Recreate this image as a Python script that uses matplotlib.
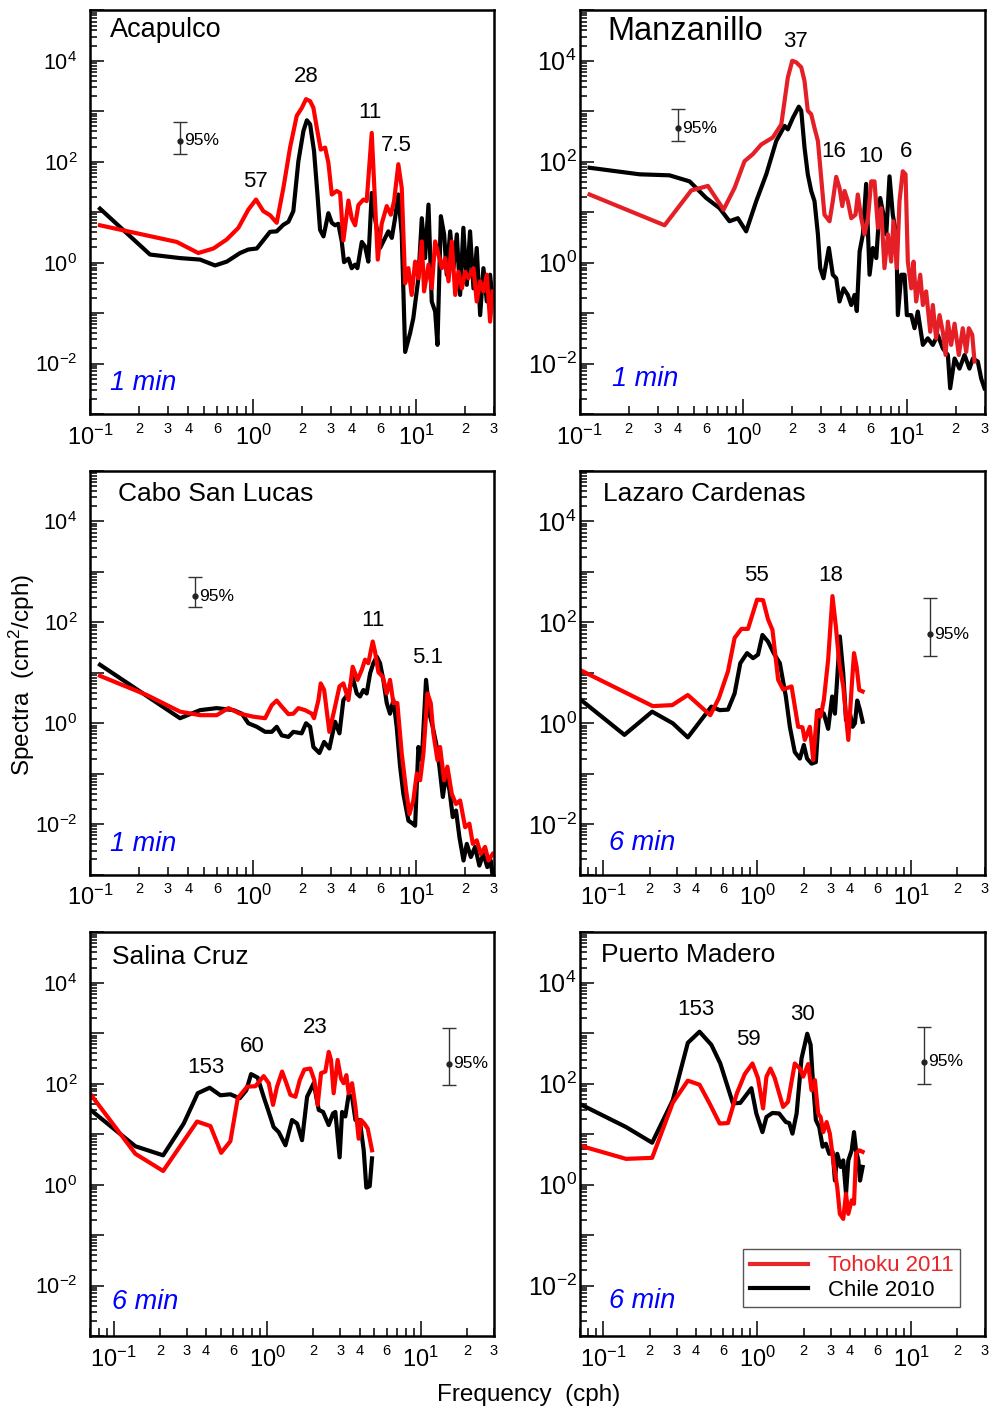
import matplotlib
matplotlib.use('Agg')
import matplotlib.pyplot as plt
from matplotlib.ticker import FixedLocator, FuncFormatter, NullFormatter
import numpy as np

plt.rcParams['font.family'] = ['Liberation Sans', 'DejaVu Sans']
plt.rcParams['mathtext.fontset'] = 'custom'
plt.rcParams['mathtext.rm'] = 'Liberation Sans'
plt.rcParams['mathtext.it'] = 'Liberation Sans:italic'

# spectra as (log10 frequency [cph], log10 spectrum [cm^2/cph])
aca_chile = [(-0.939, 1.07), (-0.632, 0.16), (-0.448, 0.09), (-0.325, 0.06), (-0.233, -0.056), (-0.161, 0.02),
             (-0.08, 0.19), (-0.029, 0.26), (0.023, 0.28), (0.104, 0.61), (0.145, 0.62), (0.186, 0.75), (0.217, 0.81),
             (0.247, 1.02), (0.278, 2.01), (0.309, 2.61), (0.33, 2.82), (0.35, 2.74), (0.374, 2.21), (0.395, 1.35),
             (0.411, 0.65), (0.432, 0.52), (0.462, 0.98), (0.483, 0.79), (0.503, 0.74), (0.523, 0.77), (0.544, 0.42),
             (0.558, 0.01), (0.585, 0.08), (0.605, -0.11), (0.626, -0.04), (0.64, -0.11), (0.667, 0.41), (0.687, 0.32),
             (0.707, 0.02), (0.728, 1.38), (0.748, 0.88), (0.779, 0.29), (0.81, 0.49), (0.83, 0.62), (0.851, 0.49),
             (0.871, 0.88), (0.891, 1.35), (0.912, 0.56), (0.933, -1.77), (0.963, -1.40), (0.983, -1.10), (1.014, -0.31),
             (1.035, 0.88), (1.055, 0.09), (1.076, 1.15), (1.096, -0.77), (1.117, -0.97), (1.131, -1.63), (1.152, 0.92),
             (1.172, 0.56), (1.188, -0.24), (1.209, 0.62), (1.229, -0.11), (1.25, 0.56), (1.27, -0.64), (1.29, 0.69),
             (1.311, -0.44), (1.331, 0.62), (1.352, -0.51), (1.372, 0.29), (1.393, -1.04), (1.413, -0.11), (1.434, -0.77),
             (1.454, -0.24), (1.47, -0.77)]
aca_tohoku = [(-0.939, 0.74), (-0.468, 0.41), (-0.336, 0.19), (-0.243, 0.28), (-0.161, 0.46), (-0.09, 0.69),
              (-0.029, 1.05), (0.018, 1.25), (0.063, 1.02), (0.104, 0.94), (0.145, 0.79), (0.186, 1.48), (0.227, 2.28),
              (0.268, 2.91), (0.298, 3.06), (0.325, 3.24), (0.35, 3.20), (0.37, 3.07), (0.391, 2.67), (0.415, 2.24),
              (0.442, 2.28), (0.462, 1.98), (0.483, 1.35), (0.513, 1.42), (0.534, 1.38), (0.554, 0.44), (0.585, 1.23),
              (0.605, 0.88), (0.626, 0.74), (0.646, 1.14), (0.677, 1.25), (0.697, 1.22), (0.728, 2.57), (0.742, 1.61),
              (0.765, 0.06), (0.789, 0.77), (0.82, 1.12), (0.845, 0.95), (0.865, 1.22), (0.891, 1.95), (0.912, 1.48),
              (0.933, -0.41), (0.953, -0.11), (0.973, -0.64), (0.994, 0.02), (1.014, -0.31), (1.035, 0.42), (1.049, -0.57),
              (1.076, -0.04), (1.096, -0.51), (1.117, 0.42), (1.137, 0.16), (1.158, -0.11), (1.178, 0.09), (1.199, -0.37),
              (1.219, 0.42), (1.24, -0.64), (1.26, -0.18), (1.281, -0.51), (1.301, -0.18), (1.321, -0.31), (1.352, -0.11),
              (1.372, -0.77), (1.393, -0.37), (1.413, -0.57), (1.434, -0.24), (1.454, -1.17), (1.47, -0.57)]

man_chile = [(-0.939, 1.88), (-0.633, 1.75), (-0.45, 1.73), (-0.327, 1.61), (-0.225, 1.28), (-0.144, 1.08),
             (-0.083, 0.82), (-0.032, 0.88), (0.019, 0.62), (0.081, 1.22), (0.142, 1.75), (0.203, 2.41), (0.254, 2.71),
             (0.274, 2.64), (0.305, 2.87), (0.341, 3.09), (0.356, 3.01), (0.376, 2.28), (0.396, 1.75), (0.417, 1.42),
             (0.437, 1.22), (0.458, 0.56), (0.472, -0.11), (0.492, -0.31), (0.525, 0.29), (0.549, -0.24), (0.57, -0.31),
             (0.59, -0.77), (0.615, -0.51), (0.641, -0.64), (0.662, -0.84), (0.682, -0.64), (0.696, -0.96), (0.713, 0.22),
             (0.733, 0.56), (0.753, 1.56), (0.774, -0.24), (0.794, 0.29), (0.815, 0.09), (0.839, 1.28), (0.859, 0.95),
             (0.876, 0.56), (0.896, 1.71), (0.916, 0.95), (0.937, 0.56), (0.947, -1.04), (0.968, -0.24), (0.988, -0.24),
             (1.002, -1.04), (1.029, -1.04), (1.049, -1.30), (1.069, -0.97), (1.1, -1.63), (1.13, -1.50), (1.161, -1.63),
             (1.191, -1.43), (1.222, -1.70), (1.253, -1.83), (1.267, -2.49), (1.294, -1.90), (1.324, -2.10),
             (1.355, -1.83), (1.385, -2.10), (1.406, -1.90), (1.436, -1.96), (1.457, -2.30), (1.477, -2.49)]
man_tohoku = [(-0.939, 1.35), (-0.48, 0.74), (-0.317, 1.43), (-0.215, 1.52), (-0.119, 1.05), (-0.052, 1.48),
              (0.009, 2.01), (0.06, 2.15), (0.111, 2.34), (0.182, 2.48), (0.234, 2.74), (0.274, 3.67), (0.301, 4.0),
              (0.325, 3.97), (0.356, 3.87), (0.376, 3.60), (0.396, 3.01), (0.417, 2.94), (0.437, 2.67), (0.458, 2.41),
              (0.478, 1.68), (0.498, 0.95), (0.529, 0.82), (0.549, 1.22), (0.57, 1.70), (0.59, 1.48), (0.607, 1.12),
              (0.621, 1.42), (0.641, 1.22), (0.662, 0.88), (0.688, 0.95), (0.702, 1.35), (0.723, 0.88), (0.743, 0.56),
              (0.764, 0.88), (0.784, 1.61), (0.804, 1.61), (0.825, 0.69), (0.845, 1.08), (0.865, -0.11), (0.886, 0.56),
              (0.906, 0.02), (0.92, 0.82), (0.941, -0.11), (0.957, 1.22), (0.977, 1.81), (0.994, 1.75), (1.008, 0.02),
              (1.029, -0.51), (1.043, 0.02), (1.059, -0.77), (1.084, -0.24), (1.1, -0.84), (1.12, -0.57), (1.145, -1.37),
              (1.161, -0.84), (1.181, -1.50), (1.202, -1.04), (1.222, -1.37), (1.239, -1.83), (1.253, -1.17),
              (1.273, -1.63), (1.294, -1.21), (1.32, -1.83), (1.344, -1.30), (1.365, -1.77), (1.381, -1.30),
              (1.402, -1.43), (1.416, -1.96)]

cabo_chile = [(-0.939, 1.16), (-0.448, 0.10), (-0.325, 0.26), (-0.223, 0.30), (-0.12, 0.26), (-0.069, 0.19),
              (-0.029, 0.0), (0.023, -0.07), (0.074, -0.17), (0.115, -0.17), (0.145, -0.07), (0.176, -0.24),
              (0.217, -0.27), (0.247, -0.17), (0.298, -0.20), (0.325, 0.0), (0.35, -0.07), (0.37, -0.47), (0.407, -0.59),
              (0.436, -0.37), (0.468, -0.50), (0.503, 0.03), (0.53, -0.20), (0.554, 0.46), (0.585, 0.59), (0.611, 0.91),
              (0.636, 0.59), (0.656, 0.53), (0.677, 0.66), (0.697, 0.59), (0.718, 0.99), (0.738, 1.19), (0.759, 1.32),
              (0.779, 1.19), (0.799, 0.86), (0.82, 0.40), (0.84, 0.19), (0.861, 0.46), (0.881, -0.07), (0.902, -0.86),
              (0.922, -1.40), (0.953, -1.93), (0.98, -1.99), (0.994, -2.03), (1.014, -0.47), (1.035, -0.73),
              (1.061, 0.86), (1.082, 0.19), (1.102, -0.07), (1.123, -0.40), (1.143, -0.86), (1.164, -1.46),
              (1.184, -1.00), (1.205, -1.33), (1.225, -1.86), (1.245, -1.73), (1.266, -2.26), (1.291, -2.72),
              (1.311, -2.39), (1.336, -2.65), (1.362, -2.45), (1.388, -2.82), (1.413, -2.59), (1.437, -2.85),
              (1.458, -2.72), (1.47, -3.05)]
cabo_tohoku = [(-0.939, 0.94), (-0.652, 0.56), (-0.448, 0.23), (-0.325, 0.16), (-0.223, 0.16), (-0.151, 0.30),
               (-0.08, 0.19), (0.002, 0.13), (0.074, 0.10), (0.115, 0.36), (0.145, 0.45), (0.176, 0.33), (0.217, 0.18),
               (0.247, 0.19), (0.278, 0.30), (0.319, 0.26), (0.36, 0.19), (0.374, 0.10), (0.401, 0.46), (0.415, 0.79),
               (0.436, 0.66), (0.468, -0.17), (0.503, 0.33), (0.53, 0.73), (0.554, 0.79), (0.585, 0.46), (0.611, 1.12),
               (0.641, 0.86), (0.667, 1.06), (0.687, 1.26), (0.707, 1.19), (0.734, 1.62), (0.748, 1.42), (0.769, 1.01),
               (0.796, 0.92), (0.82, 0.59), (0.84, 0.86), (0.861, 0.40), (0.885, 0.40), (0.912, -0.60), (0.939, -1.33),
               (0.959, -1.80), (0.983, -1.53), (1.004, -1.00), (1.025, -1.13), (1.045, -0.60), (1.07, 0.59),
               (1.09, 0.40), (1.106, -0.20), (1.131, -0.73), (1.147, -0.47), (1.172, -1.13), (1.192, -0.86),
               (1.219, -1.40), (1.245, -1.60), (1.27, -1.53), (1.301, -2.06), (1.327, -1.99), (1.348, -2.39),
               (1.372, -2.32), (1.397, -2.59), (1.423, -2.45), (1.444, -2.72), (1.47, -2.59)]

laz_chile = [(-1.161, 0.50), (-0.863, -0.23), (-0.683, 0.23), (-0.549, 0.0), (-0.451, -0.28), (-0.298, 0.33),
             (-0.244, 0.26), (-0.19, 0.27), (-0.147, 0.59), (-0.11, 1.19), (-0.066, 1.39), (-0.027, 1.29), (0.005, 1.36),
             (0.034, 1.75), (0.07, 1.62), (0.107, 1.39), (0.147, 1.19), (0.186, 0.53), (0.212, -0.07), (0.244, -0.57),
             (0.277, -0.70), (0.303, -0.43), (0.324, -0.70), (0.353, -0.80), (0.381, -0.77), (0.403, 0.26), (0.433, 0.19),
             (0.461, -0.11), (0.487, 0.53), (0.505, 0.19), (0.537, 1.72), (0.559, 0.99), (0.577, 0.06), (0.603, 0.19),
             (0.62, -0.07), (0.635, 0.0), (0.65, 0.45), (0.668, 0.26), (0.685, 0.03)]
laz_tohoku = [(-1.161, 1.07), (-0.679, 0.34), (-0.552, 0.36), (-0.451, 0.56), (-0.305, 0.16), (-0.249, 0.50),
              (-0.19, 1.03), (-0.147, 1.69), (-0.103, 1.87), (-0.06, 1.87), (-0.001, 2.45), (0.038, 2.44), (0.07, 2.06),
              (0.099, 1.85), (0.136, 0.86), (0.168, 0.67), (0.223, 0.73), (0.266, -0.07), (0.294, -0.08), (0.309, -0.33),
              (0.342, -0.07), (0.364, -0.73), (0.389, 0.25), (0.412, 0.13), (0.433, 0.46), (0.461, 1.26), (0.489, 2.52),
              (0.511, 1.92), (0.533, 1.19), (0.559, 0.73), (0.592, -0.33), (0.614, 0.73), (0.629, 1.39), (0.646, 1.12),
              (0.663, 0.66), (0.685, 0.63)]

sal_chile = [(-1.163, 1.51), (-0.859, 0.76), (-0.678, 0.58), (-0.544, 1.21), (-0.453, 1.81), (-0.375, 1.92),
             (-0.305, 1.77), (-0.24, 1.79), (-0.179, 1.71), (-0.136, 1.87), (-0.105, 2.19), (-0.062, 2.12),
             (-0.023, 1.74), (0.01, 1.44), (0.042, 1.14), (0.075, 1.04), (0.119, 0.78), (0.162, 1.28), (0.195, 1.21),
             (0.227, 0.88), (0.26, 1.74), (0.303, 2.01), (0.336, 1.48), (0.364, 1.44), (0.401, 1.18), (0.429, 1.41),
             (0.444, 1.44), (0.472, 0.54), (0.488, 1.44), (0.509, 1.35), (0.531, 1.78), (0.553, 1.74), (0.575, 1.28),
             (0.603, 1.28), (0.629, 0.68), (0.646, -0.06), (0.668, -0.03), (0.683, 0.52)]
sal_tohoku = [(-1.163, 1.84), (-0.859, 0.61), (-0.678, 0.27), (-0.457, 1.25), (-0.37, 1.16), (-0.30, 0.63),
              (-0.24, 0.86), (-0.192, 1.71), (-0.131, 1.94), (-0.077, 1.95), (-0.023, 2.15), (0.01, 2.01), (0.038, 1.58),
              (0.064, 1.94), (0.097, 2.24), (0.125, 2.01), (0.151, 1.78), (0.184, 1.74), (0.212, 2.07), (0.242, 2.28),
              (0.281, 2.30), (0.307, 2.07), (0.329, 1.58), (0.351, 2.21), (0.379, 2.24), (0.401, 2.63), (0.416, 2.47),
              (0.433, 1.81), (0.459, 2.47), (0.481, 2.10), (0.498, 2.01), (0.516, 2.17), (0.531, 1.81), (0.553, 2.01),
              (0.575, 1.54), (0.596, 0.91), (0.612, 1.28), (0.633, 1.21), (0.655, 1.11), (0.683, 0.68)]

pm_chile = [(-1.161, 1.61), (-0.852, 1.14), (-0.683, 0.83), (-0.549, 1.67), (-0.451, 2.81), (-0.375, 3.03),
            (-0.298, 2.77), (-0.24, 2.40), (-0.158, 1.61), (-0.11, 1.62), (-0.038, 1.91), (-0.006, 1.41), (0.034, 1.04),
            (0.06, 1.34), (0.099, 1.42), (0.142, 1.41), (0.186, 1.24), (0.208, 1.22), (0.229, 1.01), (0.256, 1.41),
            (0.288, 2.50), (0.325, 2.99), (0.347, 2.77), (0.36, 2.14), (0.381, 1.28), (0.403, 1.14), (0.425, 0.75),
            (0.446, 0.81), (0.468, 0.61), (0.49, 0.65), (0.505, 0.08), (0.52, 0.61), (0.542, 0.35), (0.559, 0.48),
            (0.577, -0.18), (0.592, 0.48), (0.614, 0.68), (0.629, 1.04), (0.642, 0.68), (0.657, 0.48), (0.668, 0.08),
            (0.685, 0.35)]
pm_tohoku = [(-1.161, 0.78), (-0.852, 0.51), (-0.683, 0.53), (-0.549, 1.62), (-0.451, 2.06), (-0.375, 1.98),
             (-0.31, 1.61), (-0.244, 1.21), (-0.19, 1.22), (-0.132, 1.81), (-0.081, 2.19), (-0.031, 2.40), (0.005, 2.11),
             (0.038, 1.51), (0.06, 2.14), (0.086, 2.30), (0.114, 2.11), (0.168, 1.54), (0.2, 1.64), (0.244, 2.40),
             (0.277, 2.30), (0.299, 2.14), (0.331, 2.39), (0.353, 1.87), (0.375, 2.07), (0.396, 1.41), (0.412, 1.34),
             (0.429, 1.04), (0.451, 1.24), (0.472, 1.01), (0.494, 0.48), (0.52, -0.05), (0.537, -0.58), (0.559, -0.68),
             (0.577, -0.18), (0.592, -0.58), (0.614, -0.31), (0.629, -0.38), (0.642, 0.61), (0.663, 0.68), (0.685, 0.65)]

# 95% confidence bars: (frequency, centre, lower, upper)
aca_ci = (0.356, 263, 145, 603)
man_ci = (0.40, 457, 263, 1096)
cabo_ci = (0.44, 331, 200, 794)
laz_ci = (13.3, 58, 22, 302)
sal_ci = (15.2, 250, 96, 1250)
pm_ci = (12.2, 270, 100, 1350)

# peak labels (period in minutes) and where they sit (frequency, spectrum)
aca_peaks = [('28', 2.11, 4800), ('57', 1.03, 41), ('11', 5.2, 940), ('7.5', 7.6, 214)]
man_peaks = [('37', 2.1, 24000), ('16', 3.6, 162), ('10', 6.0, 129), ('6', 9.9, 162)]
cabo_peaks = [('11', 5.45, 107), ('5.1', 11.7, 20)]
laz_peaks = [('55', 0.99, 850), ('18', 3.0, 850)]
sal_peaks = [('153', 0.40, 214), ('60', 0.80, 537), ('23', 2.06, 1290)]
pm_peaks = [('153', 0.40, 2900), ('59', 0.88, 740), ('30', 1.98, 2400)]


def xmajor(v, pos):
    return r'$10^{%d}$' % int(round(np.log10(v)))


def ymajor(v, pos):
    e = int(round(np.log10(v)))
    return r'$10^{%d}$' % e if e % 2 == 0 else ''


def xminor(v, pos):
    e = np.floor(np.log10(v) + 1e-9)
    d = int(round(v / 10 ** e))
    if v > 0.099 and d in (2, 3, 4, 6):
        return str(d)
    return ''


def panel(ax, chile, tohoku, ci, peaks, name, name_pos, name_size, res, res_pos,
          xmin, ylab_size, ylab_pad, red='#ff0000'):
    f, s = 10 ** np.array(chile).T
    lc, = ax.plot(f, s, color='black', lw=3.0)
    f, s = 10 ** np.array(tohoku).T
    lt, = ax.plot(f, s, color=red, lw=3.0)

    ax.set_xscale('log')
    ax.set_yscale('log')
    ax.set_xlim(xmin, 30.02)
    ax.set_ylim(1e-3, 1e5)

    ax.xaxis.set_major_locator(FixedLocator([0.1, 1.0, 10.0]))
    ax.xaxis.set_minor_locator(FixedLocator([k * 10.0 ** e for e in (-2, -1, 0, 1) for k in range(2, 10)
                                             if xmin <= k * 10.0 ** e <= 30.02]))
    ax.xaxis.set_major_formatter(FuncFormatter(xmajor))
    ax.xaxis.set_minor_formatter(FuncFormatter(xminor))
    ax.yaxis.set_major_locator(FixedLocator([10.0 ** e for e in range(-3, 6)]))
    ax.yaxis.set_minor_locator(FixedLocator([k * 10.0 ** e for e in range(-3, 5) for k in range(2, 10)]))
    ax.yaxis.set_major_formatter(FuncFormatter(ymajor))
    ax.yaxis.set_minor_formatter(NullFormatter())

    ax.tick_params(which='both', direction='in', top=False, right=False, width=1.1)
    ax.tick_params(axis='x', which='major', length=11, labelsize=17, pad=7.5)
    ax.tick_params(axis='x', which='minor', length=6, labelsize=10.5, pad=5.5)
    ax.tick_params(axis='y', which='major', length=10, labelsize=ylab_size, pad=ylab_pad)
    ax.tick_params(axis='y', which='minor', length=5)
    for sp in ax.spines.values():
        sp.set_linewidth(1.8)

    x, c, lo, hi = ci
    ax.errorbar([x], [c], yerr=[[c - lo], [hi - c]], fmt='o', ms=3.5, color='#222222',
                ecolor='#333333', elinewidth=1, capsize=5, capthick=1)
    ax.annotate('95%', xy=(x, c), xytext=(3, 0), textcoords='offset points',
                fontsize=12.5, ha='left', va='center')

    for txt, px, py in peaks:
        ax.text(px, py, txt, fontsize=16, ha='center', va='center')

    ax.text(name_pos[0], name_pos[1], name, transform=ax.transAxes, fontsize=name_size,
            ha='left', va='center')
    ax.text(res_pos[0], res_pos[1], res, transform=ax.transAxes, fontsize=19.5, color='#0000ff',
            style='italic', ha='left', va='center')
    return lc, lt


fig = plt.figure(figsize=(9.93, 14.13), dpi=100)

lx, lw = 0.0906, 0.4068
rx, rw = 0.5836, 0.4079
h = 0.2857
rows = [0.7070, 0.3810, 0.0545]

ax1 = fig.add_axes([lx, rows[0], lw, h])
panel(ax1, aca_chile, aca_tohoku, aca_ci, aca_peaks, 'Acapulco', (0.05, 0.95), 19.5,
      '1 min', (0.05, 0.077), 0.0999, 15.5, 9)

ax2 = fig.add_axes([rx, rows[0], rw, h])
panel(ax2, man_chile, man_tohoku, man_ci, man_peaks, 'Manzanillo', (0.068, 0.948), 23.5,
      '1 min', (0.08, 0.087), 0.0999, 18, 2, red='#e51f26')

ax3 = fig.add_axes([lx, rows[1], lw, h])
panel(ax3, cabo_chile, cabo_tohoku, cabo_ci, cabo_peaks, 'Cabo San Lucas', (0.07, 0.943), 19,
      '1 min', (0.05, 0.077), 0.0999, 15.5, 9)

ax4 = fig.add_axes([rx, rows[1], rw, h])
panel(ax4, laz_chile, laz_tohoku, laz_ci, laz_peaks, 'Lazaro Cardenas', (0.058, 0.943), 19,
      '6 min', (0.074, 0.079), 0.07, 18, 2)

ax5 = fig.add_axes([lx, rows[2], lw, h])
panel(ax5, sal_chile, sal_tohoku, sal_ci, sal_peaks, 'Salina Cruz', (0.055, 0.94), 19,
      '6 min', (0.055, 0.085), 0.07, 15.5, 9)

ax6 = fig.add_axes([rx, rows[2], rw, h])
lc, lt = panel(ax6, pm_chile, pm_tohoku, pm_ci, pm_peaks, 'Puerto Madero', (0.054, 0.943), 19,
               '6 min', (0.074, 0.087), 0.07, 18, 2)

leg = ax6.legend([lt, lc], ['Tohoku 2011', 'Chile 2010'], loc='upper right',
                 bbox_to_anchor=(0.94, 0.216), fancybox=False, edgecolor='#555555',
                 framealpha=1, fontsize=16, handlelength=2.6, handletextpad=0.9,
                 borderpad=0.3, labelspacing=0.15, borderaxespad=0)
leg.get_frame().set_linewidth(1.0)
leg.get_texts()[0].set_color('#e8262b')
leg.get_lines()[0].set_color('#e8262b')

fig.text(0.022, 0.522, 'Spectra  (cm$^{2}$/cph)', rotation=90, fontsize=17.5, ha='center', va='center')
fig.text(0.532, 0.0127, 'Frequency  (cph)', fontsize=17.5, ha='center', va='center')

fig.savefig('out.png', dpi=100)
